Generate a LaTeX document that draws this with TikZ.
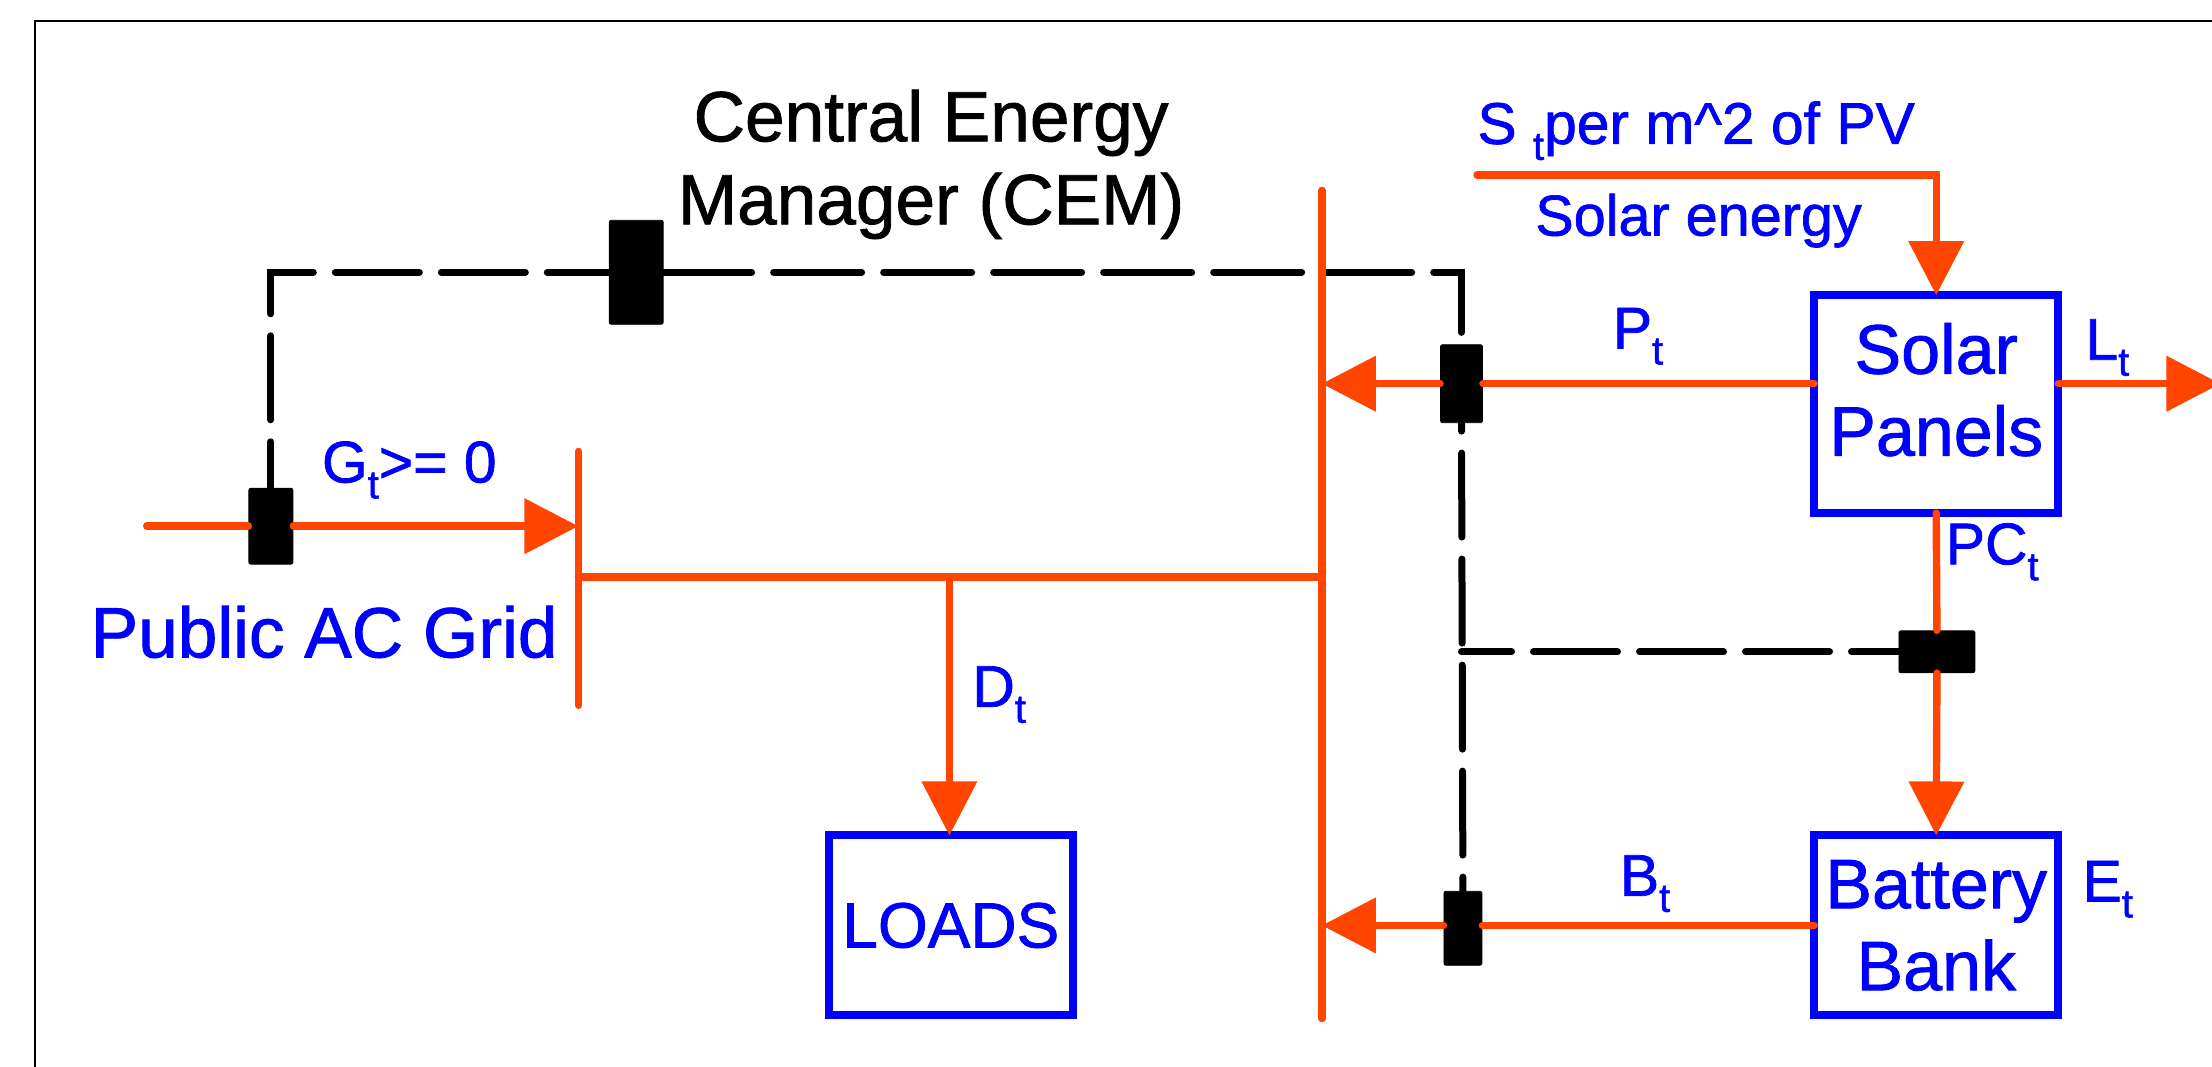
\documentclass[tikz,border=0pt]{standalone}
\usepackage{fontspec}
\setmainfont{Liberation Sans}[FakeBold=1.2]
\usetikzlibrary{arrows.meta, calc}
\definecolor{pwr}{RGB}{255,69,0}
\tikzset{
  blk/.style = {draw=blue, fill=white, line width=4pt, text=blue, inner sep=0pt,
    outer sep=0pt, align=center, font=\fontsize{35}{41}\selectfont},
  sw/.style = {fill=black, draw=black, rounded corners=1pt, inner sep=0pt},
  lig/.style = {draw=pwr, line width=3.7pt, line cap=round},
  ligseta/.style = {lig, -{Triangle[length=27pt, width=27pt]}},
  ctl/.style = {draw=black, line width=3.5pt, line cap=round,
    dash pattern=on 42pt off 11pt},
  big/.style = {text=blue, inner sep=0pt, font=\fontsize{35.6}{41}\selectfont},
  lab/.style = {text=blue, inner sep=0pt, font=\fontsize{29.4}{33}\selectfont}
}
\newcommand{\subT}{\raisebox{-8pt}{\fontsize{20}{20}\selectfont t}}

\begin{document}
\begin{tikzpicture}[x=0.70536pt, y=-0.70536pt]
  \useasboundingbox (0,0) rectangle (1568,756);
  \clip (0,0) rectangle (1568,756);
  \fill [white] (0,0) rectangle (1568,756);
  \draw [line width=1.2pt] (25,800) -- (25,15) -- (1600,15);
  % buses
  \coordinate (busat) at (410,320);
  \coordinate (busab) at (410,500);
  \coordinate (busbt) at (937,135);
  \coordinate (busbb) at (937,722);
  \coordinate (gridin) at (104,373);
  \coordinate (solin) at (1047,124);
  \coordinate (lossout) at (1574,272);
  % blocks
  \node [blk, minimum width=122pt, minimum height=109pt] (pv) at (1372.5,286.5) {};
  \node [blk, minimum width=122pt, minimum height=90pt] (bat) at (1372.5,656) {Battery\\Bank};
  \node [blk, minimum width=122pt, minimum height=90pt, font=\fontsize{32}{38}\selectfont] (load) at (674,656) {LOADS};
  % switches
  \node [sw, minimum width=27pt, minimum height=52pt] (swcem) at (451,193) {};
  \node [sw, minimum width=22pt, minimum height=38pt] (swgrid) at (192,373) {};
  \node [sw, minimum width=21pt, minimum height=39pt] (swpv) at (1036,272) {};
  \node [sw, minimum width=38pt, minimum height=21pt] (swpc) at (1373,462) {};
  \node [sw, minimum width=19pt, minimum height=37pt] (swbat) at (1037,658) {};
  % control lines
  \draw [ctl, dash phase=19pt] (swgrid.north) |- (swcem.west);
  \draw [ctl, dash pattern=on 44pt off 11pt] (swcem.east) -| (swpv.north);
  \draw [ctl, dash phase=38pt] (swpv.south) -- (swbat.north);
  \draw [ctl, dash phase=18.5pt] (swpc.west) -- (swpc.west -| swpv);
  % power lines
  \draw [lig] (busat) -- (busab);
  \draw [lig] (busbt) -- (busbb);
  \draw [lig] (gridin) -- (swgrid.west);
  \draw [ligseta] (swgrid.east) -- (swgrid.east -| busat);
  \draw [lig] (410,409) -- (937,409);
  \draw [ligseta] (673,409) -- (load.north -| 673,0);
  \draw [ligseta] (solin) -| (pv.north);
  \draw [ligseta] (swpv.west) -- (swpv.west -| busbt);
  \draw [lig] (pv.west |- swpv) -- (swpv.east);
  \draw [ligseta] (pv.east |- lossout) -- (lossout);
  \draw [lig] (pv.south) -- (swpc.north);
  \draw [ligseta] (swpc.south) -- (bat.north);
  \draw [ligseta] (swbat.west |- bat.west) -- (bat.west -| busbt);
  \draw [lig] (bat.west) -- (swbat.east |- bat.west);
  % labels
  \node [inner sep=0pt, align=center, font=\fontsize{35.6}{41.5}\selectfont, anchor=base] (cem) at (660,159) {Central Energy\\Manager (CEM)};
  \node [inner sep=0pt, align=center, text=blue, font=\fontsize{35}{41}\selectfont, anchor=base] (pvtxt) at (1372.5,323) {Solar\\Panels};
  \node [big, anchor=base west] (gridlab) at (64,466) {Public AC Grid};
  \node [lab, anchor=base west] (sollab) at (1047,102) {S \subT per m\textasciicircum 2 of PV};
  \node [lab, anchor=base west, font=\fontsize{28.8}{33}\selectfont] (enlab) at (1088,167) {Solar energy};
  \node [lab, anchor=base west] (plab) at (1143,247) {P\subT};
  \node [lab, anchor=base west] (llab) at (1478,255) {L\subT};
  \node [lab, anchor=base west] (glab) at (228,342) {G\subT>= 0};
  \node [lab, anchor=base west] (pclab) at (1379,400) {PC\subT};
  \node [lab, anchor=base west] (dlab) at (689,501) {D\subT};
  \node [lab, anchor=base west] (blab) at (1148,635) {B\subT};
  \node [lab, anchor=base west] (elab) at (1476,639) {E\subT};
\end{tikzpicture}
\end{document}
